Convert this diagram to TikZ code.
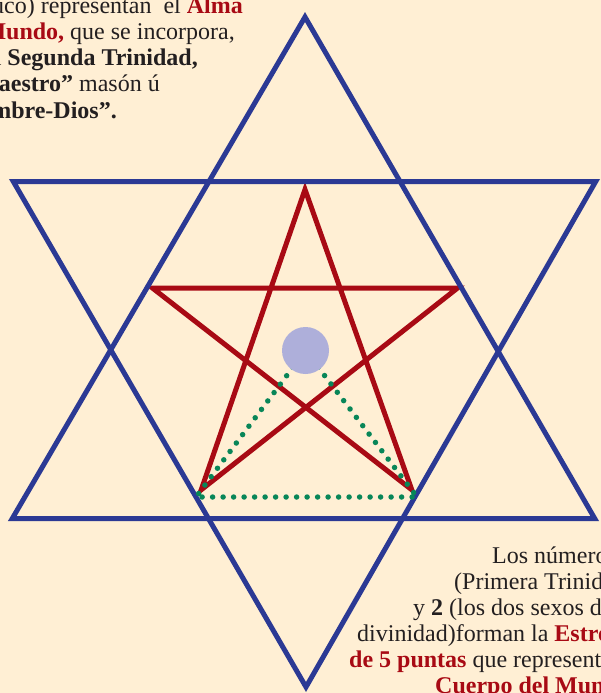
\documentclass[tikz,border=0pt]{standalone}
\usepackage{fontspec}
\setmainfont{Liberation Serif}
\definecolor{fondo}{RGB}{255,239,212}
\definecolor{azul}{RGB}{43,57,148}
\definecolor{rojo}{RGB}{168,10,20}
\definecolor{verde}{RGB}{8,134,88}
\definecolor{lila}{RGB}{174,175,218}
\definecolor{negro}{RGB}{35,31,32}
\begin{document}
\begin{tikzpicture}[x=1pt,y=-1pt,
  linea/.style={line width=5pt, line join=miter},
  txt/.style={inner sep=0pt, font=\fontsize{24}{26}\selectfont, text=negro}]
  \fill[fondo] (0,0) rectangle (601,693);
  \clip (0,0) rectangle (601,693);
  % hexagrama
  \coordinate (hA) at (305,17);
  \coordinate (hB) at (12.3,518.5);
  \coordinate (hC) at (594.7,518.5);
  \coordinate (hD) at (13.3,181.5);
  \coordinate (hE) at (595.7,181.5);
  \coordinate (hF) at (306,687);
  % pentagrama
  \coordinate (pT) at (305,189.5);
  \coordinate (pL) at (152.4,288);
  \coordinate (pR) at (457.6,288);
  \coordinate (pBL) at (201.2,489.8);
  \coordinate (pBR) at (411.8,489.8);
  % triangulo
  \coordinate (c) at (305.5,350.5);
  \coordinate (tL) at (196,497);
  \coordinate (tR) at (417,497);
  \draw[linea, rojo] (pT) -- (pBL) -- (pR) -- (pL) -- (pBR) -- cycle;
  \draw[linea, azul] (hA) -- (hB) -- (hC) -- cycle;
  \draw[linea, azul] (hD) -- (hE) -- (hF) -- cycle;
  \draw[verde, line width=5.5pt, line cap=round, dash pattern=on 0pt off 10.5pt]
    (c) -- (tL) -- (tR) -- cycle;
  \fill[lila] (c) circle (23.5);
  % textos
  \node[txt, anchor=base east] (t1) at (243,14) {uco) representan\ \ el \textbf{\color{rojo}Alma}};
  \node[txt, anchor=base east] (t2) at (235,40) {{\bfseries\color{rojo}del Mundo,} que se incorpora,};
  \node[txt, anchor=base east] (t3) at (198,66) {la \textbf{Segunda Trinidad,}};
  \node[txt, anchor=base east] (t4) at (160,92) {\textbf{“Maestro”} masón ú};
  \node[txt, anchor=base east] (t5) at (117,118) {\textbf{“Hombre-Dios”.}};
  \node[txt, anchor=base west] (b1) at (492,563) {Los números};
  \node[txt, anchor=base west] (b2) at (454,589) {(Primera Trinidad)};
  \node[txt, anchor=base west] (b3) at (413,615) {y \textbf{2} (los dos sexos de la};
  \node[txt, anchor=base west] (b4) at (357,641) {divinidad)forman la \textbf{\color{rojo}Estrella}};
  \node[txt, anchor=base west] (b5) at (349,667) {{\bfseries\color{rojo}de 5 puntas} que representan};
  \node[txt, anchor=base west] (b6) at (435,693) {\textbf{\color{rojo}Cuerpo del Mundo}};
\end{tikzpicture}
\end{document}
